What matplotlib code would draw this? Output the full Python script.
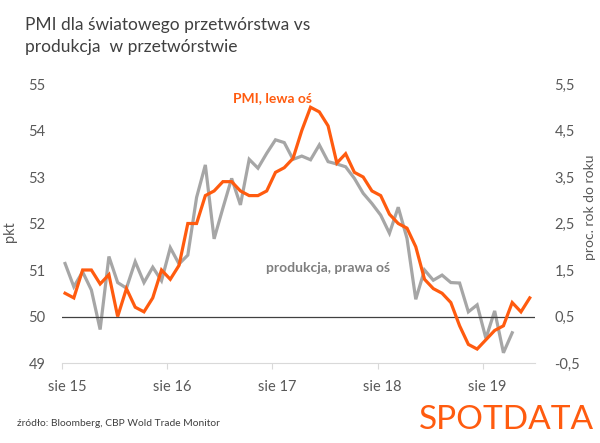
import matplotlib
matplotlib.use("Agg")
import matplotlib.pyplot as plt
import numpy as np

# Monthly data starting Aug 2015
pmi = [50.5, 50.4, 51.0, 51.0, 50.7, 50.9, 50.0, 50.6, 50.2, 50.1, 50.4, 51.0,
       50.8, 51.1, 52.0, 52.0, 52.6, 52.7, 52.9, 52.9, 52.7, 52.6, 52.6, 52.7,
       53.1, 53.2, 53.4, 54.0, 54.5, 54.4, 54.1, 53.3, 53.5, 53.1, 53.0, 52.7,
       52.6, 52.2, 52.0, 51.9, 51.5, 50.8, 50.6, 50.5, 50.3, 49.8, 49.4, 49.3,
       49.5, 49.7, 49.8, 50.3, 50.1, 50.4]
production = [1.64, 1.14, 1.46, 1.07, 0.22, 1.79, 1.23, 1.11, 1.68, 1.23, 1.56, 1.27,
              1.98, 1.63, 1.82, 3.06, 3.76, 2.17, 2.83, 3.47, 2.90, 3.88, 3.69, 4.01,
              4.30, 4.24, 3.88, 3.95, 3.87, 4.19, 3.83, 3.78, 3.72, 3.47, 3.15, 2.93,
              2.68, 2.29, 2.85, 2.18, 0.87, 1.50, 1.28, 1.39, 1.23, 1.22, 0.60, 0.75,
              0.03, 0.62, -0.28, 0.15]
x_labels = ["sie 15", "sie 16", "sie 17", "sie 18", "sie 19"]
left_ticks = [49, 50, 51, 52, 53, 54, 55]
right_ticks = [-0.5, 0.5, 1.5, 2.5, 3.5, 4.5, 5.5]

ORANGE = "#FF5B0F"
GRAY = "#A6A6A6"
TXT = "#595959"
FONT = "Lato"

plt.rcParams['font.family'] = [FONT, 'DejaVu Sans']

fig = plt.figure(figsize=(6, 4.43), dpi=100)
ax = fig.add_axes([62/600, 1-363/443, (535-62)/600, (363-84)/443])
ax2 = ax.twinx()

xp = np.arange(len(pmi))
xg = np.arange(len(production))
ax.plot(xp, pmi, color=ORANGE, lw=2.3, zorder=5, solid_joinstyle='miter')
ax2.plot(xg, production, color=GRAY, lw=2.3, zorder=4, solid_joinstyle='miter')
ax.set_zorder(ax2.get_zorder() + 1)
ax.patch.set_visible(False)

ax.axhline(50, color="#404040", lw=0.9, zorder=1)

ax.set_ylim(49, 55)
ax2.set_ylim(-0.5, 5.5)
ax.set_xlim(-0.35, 53.6)

ax.set_yticks(left_ticks)
ax.set_yticklabels([str(t) for t in left_ticks])
ax2.set_yticks(right_ticks)
ax2.set_yticklabels([f"{t:.1f}".replace(".", ",") for t in right_ticks])

major = [12*k - 0.35 for k in range(len(x_labels))]
ax.set_xticks(major)
ax.set_xticklabels([])
ax.set_xticks([12*k + 0.2 for k in range(len(x_labels))], minor=True)
ax.set_xticklabels(x_labels, minor=True)
ax.tick_params(axis='x', which='major', length=4, color="#D9D9D9", width=0.8)
ax.tick_params(axis='x', which='minor', length=0, pad=12, labelsize=10.5, labelcolor=TXT)
ax.tick_params(axis='y', length=0, labelsize=10.5, labelcolor=TXT, pad=12)
ax2.tick_params(axis='y', length=0, labelsize=10.5, labelcolor=TXT, pad=14)

for a in (ax, ax2):
    for s in ("top", "left", "right", "bottom"):
        a.spines[s].set_visible(False)
ax.spines["bottom"].set_visible(True)
ax.spines["bottom"].set_color("#D9D9D9")
ax.spines["bottom"].set_linewidth(0.8)

ax.set_ylabel("pkt", fontsize=10.5, color=TXT)
ax.yaxis.set_label_coords((17-62)/473, (363-232)/279)
ax2.set_ylabel("proc. rok do roku", fontsize=10, color=TXT, rotation=90, va="center")
ax2.yaxis.set_label_coords((590-62)/473, (363-207)/279)

fig.text(25/600, 1-25/443, "PMI dla światowego przetwórstwa vs", fontsize=12.5,
         color="#404040", va="center", ha="left")
fig.text(25/600, 1-47/443, "produkcja  w przetwórstwie", fontsize=12.5,
         color="#404040", va="center", ha="left")

fig.text(233/600, 1-98/443, "PMI, lewa oś", fontsize=10, color=ORANGE,
         fontweight="bold", va="center", ha="left")
fig.text(266/600, 1-268/443, "produkcja, prawa oś", fontsize=10, color="#7F7F7F",
         fontweight="bold", va="center", ha="left")

fig.text(17/600, 1-423/443, "źródło: Bloomberg, CBP Wold Trade Monitor", fontsize=7.4,
         color="#404040", va="center", ha="left")
fig.text(594/600, 1-420/443, "SPOTDATA", fontsize=24, color=ORANGE,
         fontweight="normal", va="center", ha="right")

fig.savefig("out.png", dpi=100)
